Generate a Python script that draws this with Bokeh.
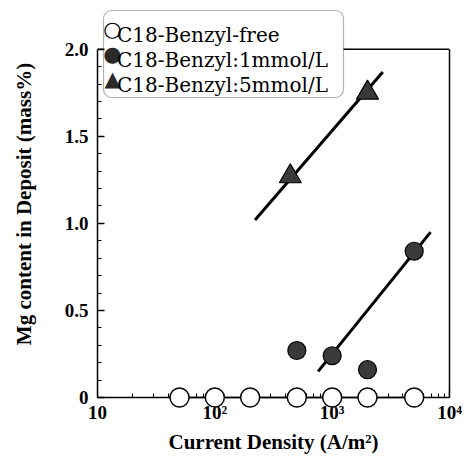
from bokeh.plotting import figure
from bokeh.models import (FixedTicker, Range1d, LinearAxis, LogAxis, Legend, LegendItem,
                          Label, Span, BoxAnnotation)
from bokeh.embed import file_html
from bokeh.resources import INLINE

# ---- data ----
free_x = [50, 100, 200, 500, 1000, 2000, 5000]
free_y = [0, 0, 0, 0, 0, 0, 0]

mm1_x = [500, 1000, 2000, 5000]
mm1_y = [0.27, 0.24, 0.16, 0.84]

mm5_x = [440, 2000]
mm5_y = [1.27, 1.75]

fit1_x = [760, 6900]
fit1_y = [0.15, 0.95]

fit5_x = [220, 2700]
fit5_y = [1.02, 1.87]

series_names = ["C18-Benzyl-free", "C18-Benzyl:1mmol/L", "C18-Benzyl:5mmol/L"]
series_symbols = ["\u25CB", "\u25CF", "\u25B2"]

x_ticks = [10, 100, 1000, 10000]
x_tick_labels = ["10", "10\u00B2", "10\u00B3", "10\u2074"]
y_ticks = [0, 0.5, 1.0, 1.5, 2.0]
y_tick_labels = ["0", "0.5", "1.0", "1.5", "2.0"]

x_title = "Current Density (A/m\u00B2)"
y_title = "Mg content in Deposit (mass%)"

SERIF = "Liberation Serif"

# ---- layout (pixels) ----
W, H = 474, 456
LEFT, RIGHT, BOTTOM = 97, 25, 47        # frame: x 97..449, y 0..409
Y0_PX, Y2_PX = 399, 49                   # where y=0 and y=2.0 sit
frame_bottom = H - BOTTOM
ppu = (Y0_PX - Y2_PX) / 2.0
y_start = -(frame_bottom - Y0_PX) / ppu
y_end = 2.0 + Y2_PX / ppu

p = figure(width=W, height=H, x_axis_type="log",
           x_range=Range1d(10, 10000), y_range=Range1d(y_start, y_end),
           output_backend="svg", toolbar_location=None,
           min_border_left=LEFT, min_border_right=RIGHT, min_border_top=0,
           min_border_bottom=BOTTOM, x_axis_location=None, y_axis_location=None)
p.outline_line_color = None
p.xgrid.visible = False
p.ygrid.visible = False
p.background_fill_color = "white"
p.border_fill_color = "white"

minor_x = [m * d for d in [10, 100, 1000] for m in range(2, 10)]
minor_y = [round(0.1 * i, 1) for i in range(1, 20) if i % 5 != 0]

# tick labels + title of the x axis (no line, no ticks)
xlab = LogAxis(ticker=FixedTicker(ticks=x_ticks, minor_ticks=[]), axis_label=x_title)
xlab.major_label_overrides = {t: l for t, l in zip(x_ticks, x_tick_labels)}
xlab.axis_line_color = None
xlab.major_tick_line_color = None
xlab.minor_tick_line_color = None
xlab.major_tick_in = 0
xlab.major_tick_out = 0
xlab.minor_tick_in = 0
xlab.minor_tick_out = 0
xlab.major_label_standoff = -6
xlab.major_label_text_font = SERIF
xlab.major_label_text_font_style = "bold"
xlab.major_label_text_font_size = "19px"
xlab.major_label_text_color = "black"
xlab.axis_label_text_font = SERIF
xlab.axis_label_text_font_style = "bold"
xlab.axis_label_text_font_size = "21px"
xlab.axis_label_text_color = "black"
xlab.axis_label_standoff = 4
p.add_layout(xlab, "below")

# x axis line and ticks drawn at y = 0 (its own labels hidden)
xax = LogAxis(ticker=FixedTicker(ticks=x_ticks, minor_ticks=minor_x), fixed_location=0)
xax.major_label_overrides = {t: "" for t in x_ticks}
xax.major_label_text_font_size = "1px"
xax.major_label_text_color = None
xax.major_label_standoff = 0
yax = LinearAxis(ticker=FixedTicker(ticks=y_ticks, minor_ticks=minor_y),
                 bounds=(0, 2.0), axis_label=y_title)
yax.major_label_overrides = {t: l for t, l in zip(y_ticks, y_tick_labels)}

for ax in (xax, yax):
    ax.axis_line_color = "black"
    ax.axis_line_width = 1.5
    ax.major_tick_line_color = "black"
    ax.minor_tick_line_color = "black"
    ax.major_tick_line_width = 1.3
    ax.minor_tick_line_width = 1.1
    ax.major_tick_in = 7
    ax.major_tick_out = 0
    ax.minor_tick_in = 4
    ax.minor_tick_out = 0

yax.major_label_text_font = SERIF
yax.major_label_text_font_style = "bold"
yax.major_label_text_font_size = "19px"
yax.major_label_text_color = "black"
yax.major_label_standoff = 9
yax.axis_label_text_font = SERIF
yax.axis_label_text_font_style = "bold"
yax.axis_label_text_font_size = "21px"
yax.axis_label_text_color = "black"
yax.axis_label_standoff = 26

p.add_layout(xax, "below")
p.add_layout(yax, "left")

# right and top border lines of the box
right = LinearAxis(ticker=FixedTicker(ticks=[]), bounds=(0, 2.0),
                   major_label_text_font_size="1px", major_label_text_color=None,
                   major_tick_in=0, major_tick_out=0, minor_tick_in=0, minor_tick_out=0,
                   axis_line_width=1.5)
p.add_layout(right, "right")
p.add_layout(Span(location=2.0, dimension="width", line_color="black", line_width=1.5,
                  level="underlay"))

# legend frame (white box with rounded corners, above the top border line)
LEG_LEFT, LEG_TOP, LEG_RIGHT, PAD, ROW = 103, 12, 343, 6, 25
leg_h = 2 * PAD + ROW * len(series_names)
box = BoxAnnotation(left=LEG_LEFT - LEFT, right=LEG_RIGHT - LEFT,
                    top=frame_bottom - LEG_TOP, bottom=frame_bottom - (LEG_TOP + leg_h),
                    left_units="screen", right_units="screen",
                    top_units="screen", bottom_units="screen",
                    fill_color="white", fill_alpha=1.0,
                    line_color="black", line_width=1.2, level="underlay")
if "border_radius" in BoxAnnotation.properties():
    box.border_radius = 8
p.add_layout(box)

# fit lines
p.line(fit5_x, fit5_y, line_color="black", line_width=3)
p.line(fit1_x, fit1_y, line_color="black", line_width=3)

# data
p.scatter(mm5_x, mm5_y, marker="triangle", size=22, fill_color="#3a3a3a",
          line_color="black", line_width=1.2)
p.scatter(mm1_x, mm1_y, marker="circle", size=18, fill_color="#3a3a3a",
          line_color="black", line_width=1.2)
p.line(free_x, free_y, line_color="black", line_width=1.5, level="overlay")
p.scatter(free_x, free_y, marker="circle", size=19, fill_color="white",
          line_color="black", line_width=1.5, level="overlay")

# legend texts (markers drawn as symbol labels)
dummies = [p.scatter([], [], marker="circle", size=1, fill_alpha=0, line_alpha=0)
           for _ in series_names]
legend = Legend(items=[LegendItem(label=n, renderers=[r]) for n, r in zip(series_names, dummies)],
                location=(LEG_LEFT - LEFT, frame_bottom - (LEG_TOP + leg_h)),
                orientation="vertical",
                glyph_width=12, glyph_height=ROW, label_height=ROW, spacing=0,
                label_standoff=2, padding=PAD, margin=0,
                label_text_font="DejaVu Serif", label_text_font_size="20px",
                label_text_color="black",
                border_line_color=None,
                background_fill_color="white", background_fill_alpha=0.0)
p.add_layout(legend, "center")

sym_colors = ["black", "#2a2a2a", "#2a2a2a"]
for i, (s, c) in enumerate(zip(series_symbols, sym_colors)):
    row_c = LEG_TOP + PAD + ROW * i + ROW / 2
    p.add_layout(Label(x=LEG_LEFT + 9 - LEFT, y=frame_bottom - row_c,
                       x_units="screen", y_units="screen",
                       text=s, text_align="center", text_baseline="middle",
                       text_font="DejaVu Sans", text_font_size="21px",
                       text_color=c))

open("out.html", "w").write(file_html(p, INLINE))
